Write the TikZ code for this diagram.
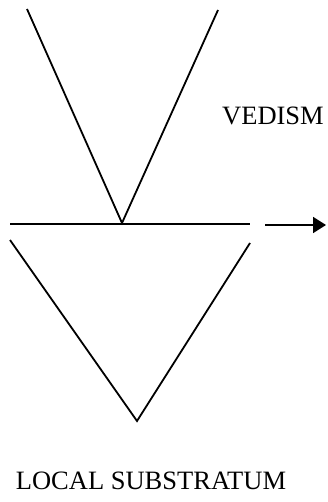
\documentclass[tikz,border=0pt]{standalone}
\usepackage{fontspec}
\setmainfont{Liberation Serif}
\usetikzlibrary{arrows.meta}
\begin{document}
\begin{tikzpicture}[x=1pt,y=-1pt,
  ln/.style={line width=1.8pt,line join=miter},
  lbl/.style={font=\fontsize{26.5}{28}\selectfont,inner sep=0pt,anchor=base}]
\useasboundingbox (0,0) rectangle (327,502);
% upper V
\coordinate (ul) at (27,9);
\coordinate (uv) at (122,223);
\coordinate (ur) at (218,10);
\draw[ln] (ul) -- (uv) -- (ur);
% horizontal line
\coordinate (hl) at (10,224);
\coordinate (hr) at (250,224);
\draw[ln] (hl) -- (hr);
% arrow
\coordinate (as) at (265,225);
\coordinate (ae) at (326,225);
\draw[ln,-{Triangle[length=13pt,width=16pt]}] (as) -- (ae);
% lower V
\coordinate (ll) at (10,240);
\coordinate (lv) at (137,421);
\coordinate (lr) at (250,243);
\draw[ln] (ll) -- (lv) -- (lr);
% labels
\node[lbl] (ved) at (273,125) {VEDISM};
\node[lbl] (loc) at (151,489) {LOCAL SUBSTRATUM};
\end{tikzpicture}
\end{document}
